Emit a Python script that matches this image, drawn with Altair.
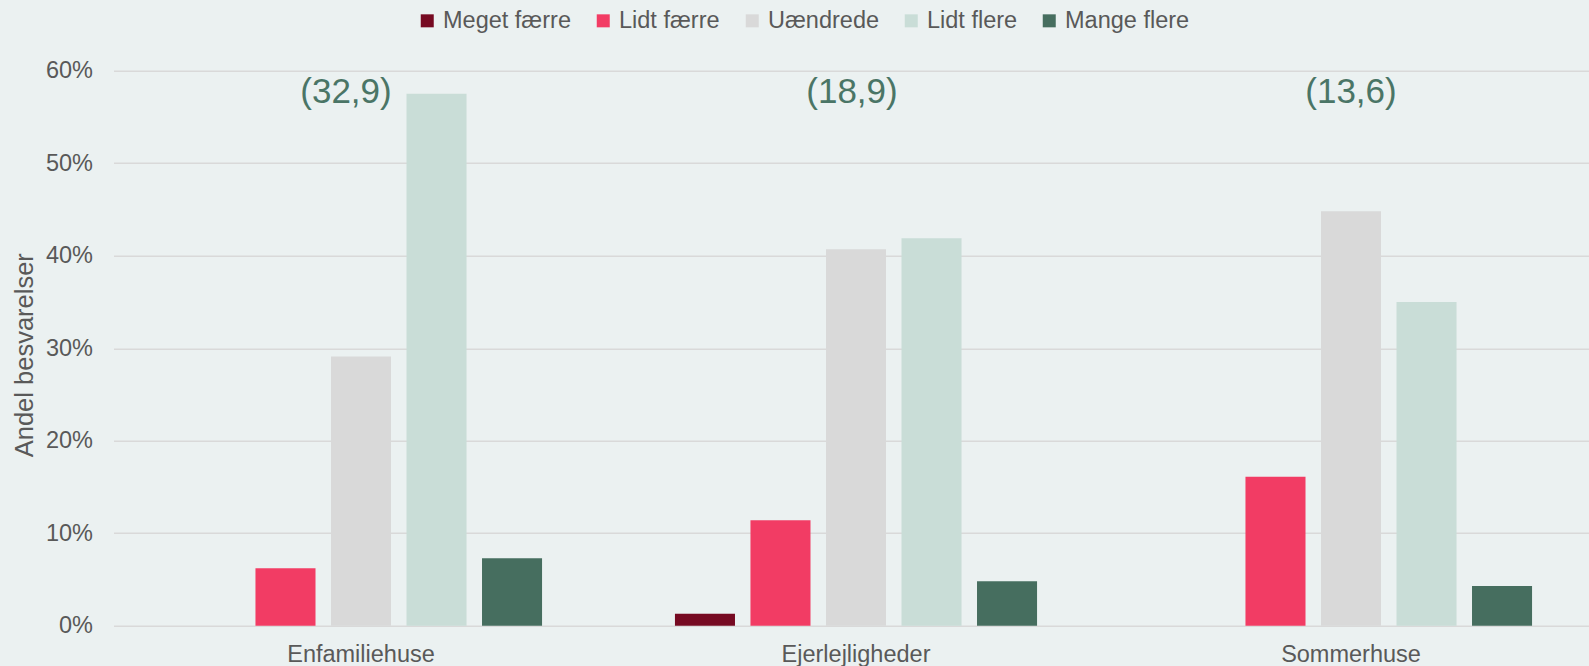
import altair as alt
import pandas as pd

categories = ["Enfamiliehuse", "Ejerlejligheder", "Sommerhuse"]
series = ["Meget færre", "Lidt færre", "Uændrede", "Lidt flere", "Mange flere"]
colors = ["#760A22", "#F23C64", "#D9D9D9", "#C9DDD7", "#466E5F"]

values = {
    "Enfamiliehuse":   [0.0, 6.2, 29.1, 57.5, 7.3],
    "Ejerlejligheder": [1.3, 11.4, 40.7, 41.9, 4.8],
    "Sommerhuse":      [0.0, 16.1, 44.8, 35.0, 4.3],
}
net_labels = ["(32,9)", "(18,9)", "(13,6)"]
label_shift = [-15, -4, 0]

rows = []
for c in categories:
    for s, v in zip(series, values[c]):
        rows.append({"kategori": c, "serie": s, "andel": v / 100})
df = pd.DataFrame(rows)
ann = pd.DataFrame({"kategori": categories, "label": net_labels, "top": [0.60] * 3})

BG = "#EBF1F1"
TXT = "#595959"
FONT = "Liberation Sans"

xscale = alt.Scale(domain=categories, range=[0, 1485], paddingInner=0, paddingOuter=0)

bars = alt.Chart(df).mark_bar().encode(
    x=alt.X("kategori:N", sort=categories, scale=xscale,
            axis=alt.Axis(title=None, labelAngle=0, domain=False, ticks=False,
                          labelFontSize=23.5, labelColor=TXT, labelFont=FONT,
                          labelPadding=17, grid=False)),
    xOffset=alt.XOffset("serie:N", sort=series,
                        scale=alt.Scale(domain=series, paddingInner=0.205, paddingOuter=0.88)),
    y=alt.Y("andel:Q", scale=alt.Scale(domain=[0, 0.6], nice=False),
            axis=alt.Axis(title="Andel besvarelser", format=".0%", values=[0, 0.1, 0.2, 0.3, 0.4, 0.5, 0.6],
                          domain=False, ticks=False, gridColor="#D9D9D9", gridWidth=1.5,
                          labelFontSize=23.5, labelColor=TXT, labelFont=FONT, labelPadding=21,
                          titleFontSize=25.5, titleColor=TXT, titleFont=FONT, titleFontWeight="normal",
                          titleX=-76.5, titleY=284)),
    color=alt.Color("serie:N", sort=series,
                    scale=alt.Scale(domain=series, range=colors),
                    legend=alt.Legend(title=None, orient="none", direction="horizontal",
                                      legendX=302, legendY=-62,
                                      symbolType="square", symbolSize=169, symbolStrokeWidth=0,
                                      labelFontSize=23.5, labelColor=TXT, labelFont=FONT,
                                      labelOffset=4, columnPadding=20, labelLimit=300)),
)

text_layers = []
for cat, shift in zip(categories, label_shift):
    text_layers.append(
        alt.Chart(ann).transform_filter(alt.datum.kategori == cat)
        .mark_text(fontSize=35, font=FONT, color="#4A7566", baseline="top", dy=4, dx=shift)
        .encode(
            x=alt.X("kategori:N", sort=categories, scale=xscale),
            y=alt.Y("top:Q"),
            text="label:N",
        )
    )

chart = alt.layer(bars, *text_layers).properties(
    width=1475.5, height=555,
    background=BG,
    padding={"left": 113.5, "top": 70.7, "right": 0, "bottom": 40.3},
    autosize=alt.AutoSizeParams(type="none"),
).configure_view(stroke=None)

chart.save("out.html", embed_options={"renderer": "svg", "actions": False})
